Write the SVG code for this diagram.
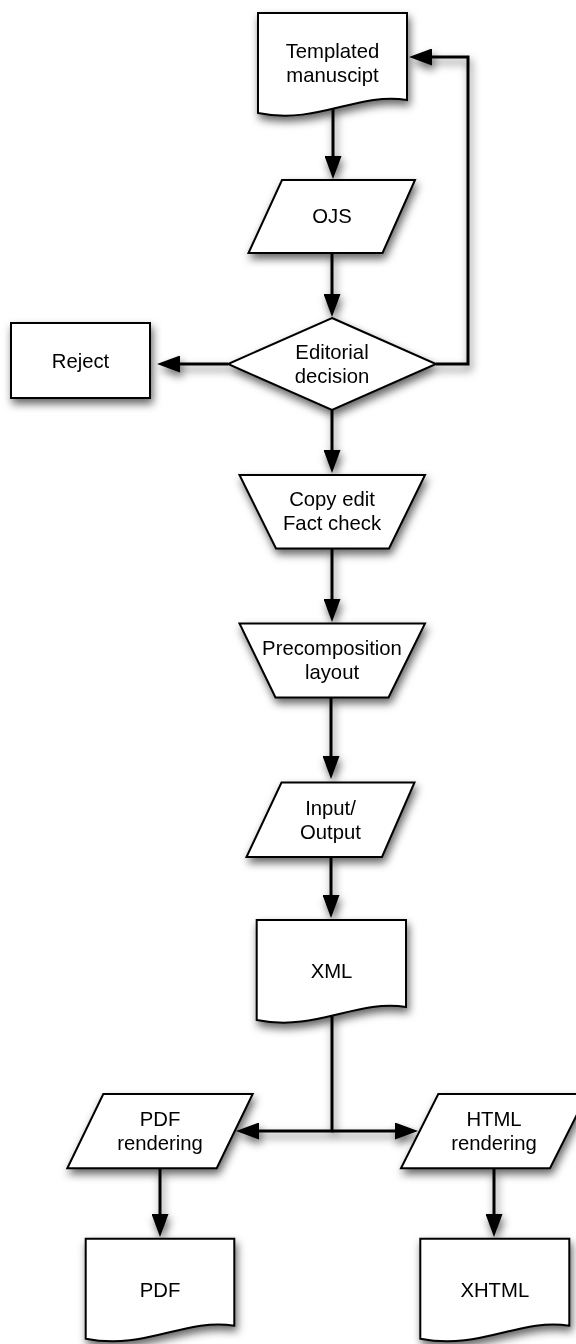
<svg xmlns="http://www.w3.org/2000/svg" width="576" height="1344" viewBox="0 0 576 1344">
<defs>
<filter id="sh" x="-20%" y="-20%" width="150%" height="160%">
<feDropShadow dx="2" dy="5" stdDeviation="4" flood-color="#000" flood-opacity="0.6"/>
</filter>
<marker id="ah" markerUnits="userSpaceOnUse" markerWidth="24" markerHeight="17" refX="17" refY="8.5" orient="auto">
<path d="M0,0 L23,8.5 L0,17 z" fill="#000"/>
</marker>
</defs>
<style>
.s{fill:#fff;stroke:#000;stroke-width:2;stroke-linejoin:miter}
.c{fill:none;stroke:#000;stroke-width:3;marker-end:url(#ah)}
text{font-family:"Liberation Sans",Arial,Helvetica,sans-serif;font-size:20.3px;fill:#000;text-anchor:middle}
</style>
<rect width="576" height="1344" fill="#fff"/>
<g id="connectors" filter="url(#sh)">
<path class="c" d="M333,108 V173"/>
<path class="c" d="M332,253 V311"/>
<path class="c" d="M228,364 H163"/>
<path class="c" d="M436,364 H468 V57 H415"/>
<path class="c" d="M332,410 V467"/>
<path class="c" d="M332,548.5 V616"/>
<path class="c" d="M331,697.5 V773"/>
<path class="c" d="M331,857 V912"/>
<path class="c" d="M332,1015 V1131 H242"/>
<path class="c" d="M332,1131 H412"/>
<path class="c" d="M160,1168 V1231"/>
<path class="c" d="M494,1168 V1231"/>
</g>
<g id="templated" filter="url(#sh)">
<path class="s" d="M258,13 H407 V100 C357,92 318,125 258,113 Z"/>
<text x="332.5" y="58">Templated</text>
<text x="332.5" y="82">manuscipt</text>
</g>
<g id="ojs" filter="url(#sh)">
<path class="s" d="M282,180 H415 L382.5,253 H248.5 Z"/>
<text x="332" y="223">OJS</text>
</g>
<g id="decision" filter="url(#sh)">
<path class="s" d="M332,318 L436,364 L332,410 L228,364 Z"/>
<text x="332" y="358.5">Editorial</text>
<text x="332" y="382.5">decision</text>
</g>
<g id="reject" filter="url(#sh)">
<rect class="s" x="11" y="323" width="139" height="75"/>
<text x="80.5" y="368">Reject</text>
</g>
<g id="copyedit" filter="url(#sh)">
<path class="s" d="M239.5,475 H425 L389,548.5 H276 Z"/>
<text x="332" y="506">Copy edit</text>
<text x="332" y="530">Fact check</text>
</g>
<g id="precomposition" filter="url(#sh)">
<path class="s" d="M239.5,623.5 H425 L388.5,697.5 H275.5 Z"/>
<text x="332" y="655">Precomposition</text>
<text x="332" y="679">layout</text>
</g>
<g id="inputoutput" filter="url(#sh)">
<path class="s" d="M281.5,782.5 H414.5 L382,857 H246.5 Z"/>
<text x="330.5" y="815">Input/</text>
<text x="330.5" y="839">Output</text>
</g>
<g id="xml" filter="url(#sh)">
<path class="s" d="M256.7,920 H406 V1007 C356,999 317,1032 256.7,1020 Z"/>
<text x="331.5" y="978">XML</text>
</g>
<g id="pdfrendering" filter="url(#sh)">
<path class="s" d="M103.3,1094 H252.7 L216.7,1168.3 H67.3 Z"/>
<text x="160" y="1126">PDF</text>
<text x="160" y="1150">rendering</text>
</g>
<g id="htmlrendering" filter="url(#sh)">
<path class="s" d="M438.3,1094 H587.3 L550,1168.3 H401 Z"/>
<text x="494" y="1126">HTML</text>
<text x="494" y="1150">rendering</text>
</g>
<g id="pdf" filter="url(#sh)">
<path class="s" d="M85.7,1238.7 H234.3 V1325.7 C184.3,1317.7 145.3,1350.7 85.7,1338.7 Z"/>
<text x="160" y="1297">PDF</text>
</g>
<g id="xhtml" filter="url(#sh)">
<path class="s" d="M420.3,1238.7 H569.3 V1325.7 C519.3,1317.7 480.3,1350.7 420.3,1338.7 Z"/>
<text x="494.8" y="1297">XHTML</text>
</g>
</svg>
